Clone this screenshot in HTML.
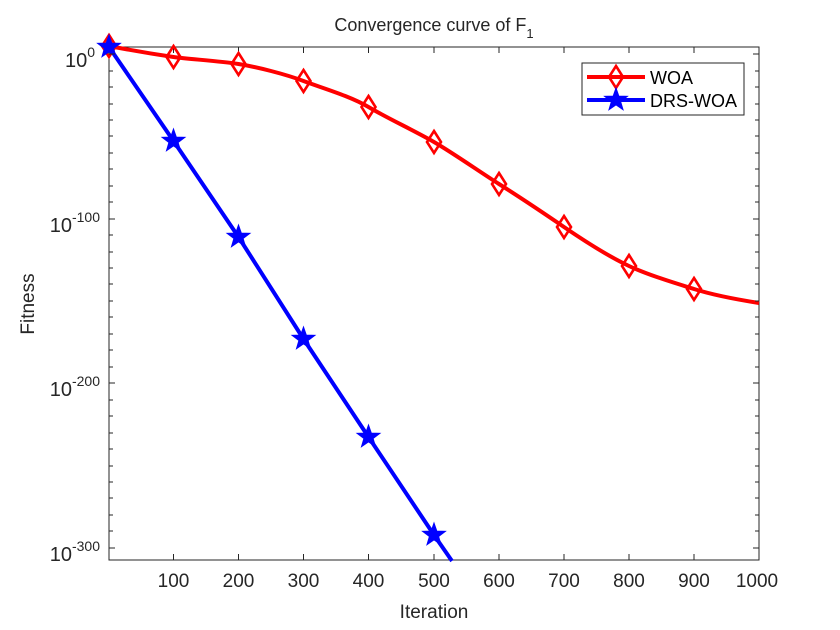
<!DOCTYPE html>
<html><head><meta charset="utf-8"><style>body{margin:0;background:#fff}svg{display:block}text{font-family:"Liberation Sans",Arial,sans-serif;fill:#262626}</style></head>
<body>
<svg width="840" height="630" viewBox="0 0 840 630" xmlns="http://www.w3.org/2000/svg">
<defs>
<polygon id="dm" points="0,-11 7,0 0,11 -7,0" fill="none" stroke="#f00" stroke-width="2.6"/>
<polygon id="st" points="0,-12 2.8,-3.9 11.4,-3.7 4.6,1.5 7,9.7 0,4.8 -7,9.7 -4.6,1.5 -11.4,-3.7 -2.8,-3.9" fill="#00f" stroke="#00f" stroke-width="1"/>
</defs>
<rect x="109" y="47" width="650" height="513" fill="#fff" stroke="#262626" stroke-width="1"/>
<g stroke="#262626" stroke-width="1">
<line x1="173.5" y1="560" x2="173.5" y2="554"/><line x1="238.5" y1="560" x2="238.5" y2="554"/><line x1="303.5" y1="560" x2="303.5" y2="554"/><line x1="368.5" y1="560" x2="368.5" y2="554"/><line x1="434" y1="560" x2="434" y2="554"/><line x1="499" y1="560" x2="499" y2="554"/><line x1="564" y1="560" x2="564" y2="554"/><line x1="629" y1="560" x2="629" y2="554"/><line x1="694" y1="560" x2="694" y2="554"/>
<line x1="173.5" y1="47" x2="173.5" y2="53"/><line x1="238.5" y1="47" x2="238.5" y2="53"/><line x1="303.5" y1="47" x2="303.5" y2="53"/><line x1="368.5" y1="47" x2="368.5" y2="53"/><line x1="434" y1="47" x2="434" y2="53"/><line x1="499" y1="47" x2="499" y2="53"/><line x1="564" y1="47" x2="564" y2="53"/><line x1="629" y1="47" x2="629" y2="53"/><line x1="694" y1="47" x2="694" y2="53"/>
</g>
<g font-size="19" text-anchor="middle">
<text x="173.5" y="587">100</text><text x="238.5" y="587">200</text><text x="303.5" y="587">300</text><text x="368.5" y="587">400</text><text x="434" y="587">500</text><text x="499" y="587">600</text><text x="564" y="587">700</text><text x="629" y="587">800</text><text x="694" y="587">900</text><text x="757" y="587">1000</text>
<text x="434" y="618">Iteration</text>
<text x="34" y="304" transform="rotate(-90 34 304)">Fitness</text>
</g>
<g font-size="20" text-anchor="end">
<text x="95" y="67">10<tspan font-size="14" dy="-10">0</tspan></text>
<text x="100" y="232">10<tspan font-size="14" dy="-10">-100</tspan></text>
<text x="100" y="396">10<tspan font-size="14" dy="-10">-200</tspan></text>
<text x="100" y="561">10<tspan font-size="14" dy="-10">-300</tspan></text>
</g>
<text x="434" y="31" font-size="18" text-anchor="middle">Convergence curve of F<tspan font-size="13" dy="7">1</tspan></text>
<path fill="none" stroke="#f00" stroke-width="4" stroke-linejoin="round" d="M109,46 C140,52 160,55 173.5,57 S220,61 238.5,64 S285,74 303.5,81 S350,96 368.5,107 S415,131 434,142 S480,172 499,184 S545,214 564,227 S610,257 629,266 S675,283 694,289 S740,300 759,303"/>
<polyline fill="none" stroke="#00f" stroke-width="4" points="109,47 173.5,141 238.5,237 303.5,339 368.5,437 434,535 452,561"/>
<g>
<use href="#dm" x="109" y="46"/><use href="#dm" x="173.5" y="57"/><use href="#dm" x="238.5" y="64"/><use href="#dm" x="303.5" y="81"/><use href="#dm" x="368.5" y="107"/><use href="#dm" x="434" y="142"/><use href="#dm" x="499" y="184"/><use href="#dm" x="564" y="227"/><use href="#dm" x="629" y="266"/><use href="#dm" x="694" y="289"/>
<use href="#st" x="109" y="47"/><use href="#st" x="173.5" y="141"/><use href="#st" x="238.5" y="237"/><use href="#st" x="303.5" y="339"/><use href="#st" x="368.5" y="437"/><use href="#st" x="434" y="535"/>
</g>
<rect x="582" y="63" width="162" height="52" fill="#fff" stroke="#262626" stroke-width="1"/>
<line x1="587" y1="77" x2="645" y2="77" stroke="#f00" stroke-width="4"/><use href="#dm" x="616" y="77"/>
<line x1="587" y1="100" x2="645" y2="100" stroke="#00f" stroke-width="4"/><use href="#st" x="616" y="100"/>
<text x="650" y="84" font-size="18" style="fill:#000">WOA</text>
<text x="650" y="107" font-size="18" style="fill:#000">DRS-WOA</text>
<g stroke="#262626" stroke-width="1">
<path d="M109,54h6M109,71h4M109,87h4M109,104h4M109,120h4M109,136h4M109,153h4M109,169h4M109,186h4M109,202h4M109,219h6M109,235h4M109,252h4M109,268h4M109,284h4M109,301h4M109,317h4M109,334h4M109,350h4M109,367h4M109,383h6M109,400h4M109,416h4M109,433h4M109,449h4M109,466h4M109,482h4M109,498h4M109,515h4M109,531h4M109,548h6"/>
<path d="M759,54h-6M759,71h-4M759,87h-4M759,104h-4M759,120h-4M759,136h-4M759,153h-4M759,169h-4M759,186h-4M759,202h-4M759,219h-6M759,235h-4M759,252h-4M759,268h-4M759,284h-4M759,301h-4M759,317h-4M759,334h-4M759,350h-4M759,367h-4M759,383h-6M759,400h-4M759,416h-4M759,433h-4M759,449h-4M759,466h-4M759,482h-4M759,498h-4M759,515h-4M759,531h-4M759,548h-6"/>
</g>
</svg>
</body></html>
